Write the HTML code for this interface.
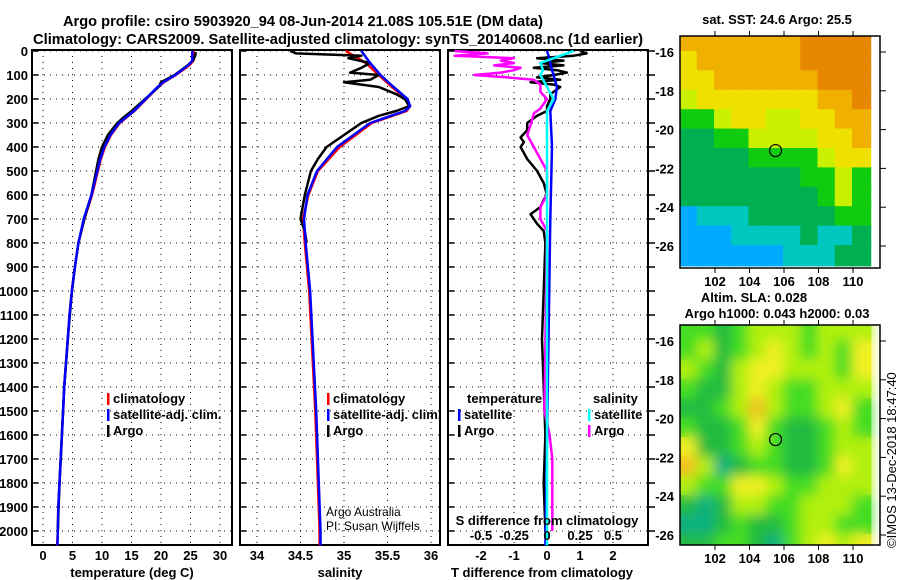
<!DOCTYPE html>
<html><head><meta charset="utf-8"><style>
html,body{margin:0;padding:0;background:#fff;}
svg{display:block;font-family:"Liberation Sans",sans-serif;}
.b{font-weight:bold;}
</style></head><body>
<svg id="s" width="900" height="580" xmlns="http://www.w3.org/2000/svg">
<defs>
<filter id="blur" x="-0.1" y="-0.1" width="1.2" height="1.2"><feGaussianBlur stdDeviation="6"/></filter>
<clipPath id="clipB"><rect x="680" y="325" width="200" height="220"/></clipPath>
<clipPath id="clipA"><rect x="680" y="36" width="200" height="232"/></clipPath>
</defs>
<text x="303" y="26" text-anchor="middle" font-size="15" class="b" textLength="480" lengthAdjust="spacingAndGlyphs">Argo profile: csiro 5903920_94 08-Jun-2014 21.08S 105.51E (DM data)</text>
<text x="338" y="44" text-anchor="middle" font-size="15" class="b" textLength="610" lengthAdjust="spacingAndGlyphs">Climatology: CARS2009. Satellite-adjusted climatology: synTS_20140608.nc (1d earlier)</text>
</svg>
<script>
// ---- data ----
const depthTicks=[0,100,200,300,400,500,600,700,800,900,1000,1100,1200,1300,1400,1500,1600,1700,1800,1900,2000];
const tempTicks=[0,5,10,15,20,25,30];
const salTicks=[34,34.5,35,35.5,36];
const salTickLabels=["34","34.5","35","35.5","36"];
const tdTicks=[-2,-1,0,1,2];
const sdTickLabels=["-0.5","-0.25","0","0.25","0.5"];
const sdTicks=[-0.5,-0.25,0,0.25,0.5];

const climDepth=[0,40,60,100,130,150,200,250,280,300,350,400,450,500,600,700,800,900,1000,1100,1200,1300,1400,1500,1600,1700,1800,1900,2000,2060];
const climTemp=[25.5,25.5,24.8,22.5,20.5,19.5,17.5,15.5,14,13,11.5,10.5,9.8,9.3,8.3,7.0,6.0,5.4,4.9,4.5,4.2,3.9,3.6,3.4,3.2,3.0,2.8,2.6,2.5,2.4];
const satTemp=[25.3,25.3,24.6,22.4,20.4,19.4,17.4,15.4,13.9,12.9,11.4,10.4,9.7,9.2,8.2,6.9,6.0,5.4,4.9,4.5,4.2,3.9,3.6,3.4,3.2,3.0,2.8,2.6,2.5,2.45];
const argoDepth=[5,20,40,60,100,130,150,200,250,280,300,350,400,450,500,600,700,800,900,1000,1200,1400,1600,1800,2000];
const argoTemp=[25.9,25.8,25.4,24.5,22.3,20.0,19.6,17.3,15.0,13.5,12.6,11.0,10.0,9.4,9.0,8.2,7.0,6.0,5.4,4.9,4.2,3.6,3.2,2.8,2.5];

const salDepth=[0,50,100,150,200,230,250,300,400,500,600,700,800,1000,1500,2000,2060];
const climSal=[35.02,35.25,35.4,35.55,35.72,35.76,35.72,35.32,34.95,34.70,34.59,34.53,34.55,34.6,34.67,34.72,34.72];
const satSal=[35.2,35.3,35.42,35.57,35.73,35.76,35.7,35.3,34.92,34.69,34.58,34.54,34.56,34.61,34.68,34.73,34.73];
const argoSalDepth=[0,10,20,30,50,70,90,100,120,130,150,180,200,230,250,270,300,350,400,450,500,600,700,750,800];
const argoSal=[34.38,34.45,35.2,35.05,35.3,35.2,35.07,35.4,35.3,35.0,35.4,35.6,35.7,35.75,35.6,35.4,35.2,35.0,34.8,34.7,34.62,34.55,34.5,34.55,34.57];

const dDepth=[0,10,20,30,40,50,60,70,80,90,100,110,120,130,140,150,180,200,230,250,270,300,330,360,380,400,450,500,550,600,620,650,680,700,720,750,800,1000,1200,1400,1600,1800,2000];
const argoTd=[1.0,1.2,0.8,-0.3,0.5,-0.2,0.5,-0.4,0.3,0.6,0.2,-0.3,0.4,-0.5,0.2,0.4,0.1,0.1,0.0,0.0,-0.3,-0.6,-0.6,-0.8,-0.7,-0.8,-0.6,-0.3,-0.1,0.0,-0.1,-0.2,-0.5,-0.4,-0.3,-0.1,-0.05,-0.1,-0.15,-0.1,-0.05,-0.1,-0.05];
const sdDepth=[0,10,20,30,40,50,60,70,80,90,100,110,120,140,170,200,240,260,300,350,400,450,500,600,650,700,750,1500,1600,1700,2000];
const argoSd=[-0.7,-0.45,-0.7,-0.25,-0.35,-0.25,-0.4,-0.2,-0.25,-0.35,-0.55,-0.3,-0.1,-0.05,-0.05,0.0,-0.05,-0.1,-0.12,-0.15,-0.1,-0.05,0.0,0.0,-0.05,-0.05,0.0,-0.02,0.02,0.04,0.04];
const satDDepth=[0,20,50,80,100,150,200,250,400,700,2060];
const satSd=[0.2,0.1,-0.05,-0.03,-0.05,0.0,0.05,0.0,0.0,0.0,0.0];
const satTd=[0.0,0.05,0.1,0.15,0.2,0.3,0.25,0.1,0.15,0.1,-0.05];

const lonTicks=[102,104,106,108,110];
const latTicks=[-16,-18,-20,-22,-24,-26];
const sstGrid=[
[6,6,6,6,6,6,6,7,7,7,7],
[5,6,6,6,6,6,6,7,7,7,7],
[5,5,6,6,6,6,6,6,7,7,7],
[4,5,5,5,5,5,5,5,6,6,7],
[3,3,4,5,5,4,4,5,5,6,6],
[2,2,3,3,4,4,4,4,5,5,6],
[2,2,2,2,3,3,3,3,4,5,5],
[2,2,2,2,2,2,2,3,3,4,3],
[2,2,2,2,2,2,2,2,3,4,3],
[0,1,1,1,2,2,2,2,2,3,3],
[0,0,0,1,1,1,1,2,1,1,2],
[0,0,0,0,0,0,1,1,1,2,2]];
const slaGrid=[
[2,2,1,2,3,3,3,2,3,3,3],
[2,3,1,2,3,4,3,2,3,2,4],
[3,2,1,3,4,4,3,3,3,2,4],
[2,1,1,3,4,3,2,2,3,3,3],
[1,1,2,3,5,3,2,2,3,4,2],
[2,1,1,2,4,2,1,1,2,3,2],
[4,1,1,2,3,2,1,1,2,3,3],
[5,3,0,1,2,2,1,1,2,4,3],
[3,2,2,4,4,3,2,2,3,3,3],
[1,0,1,3,3,2,2,3,3,3,2],
[0,0,1,2,1,1,2,3,3,2,2],
[1,1,2,2,1,0,2,3,4,3,4]];
const sstColors=["#00aaff","#00c8c0","#00b050","#10cc10","#c8f000","#f0e000","#f0b000","#e88800"];
const slaColors=["#10b080","#20bb40","#44dd22","#b0f010","#f0f020","#f0c020"];
const floatLon=105.51, floatLat=-21.08;

// ---- helpers ----
const S=document.getElementById('s');
const NS="http://www.w3.org/2000/svg";
function mk(tag,at,parent){const e=document.createElementNS(NS,tag);for(const k in at)e.setAttribute(k,at[k]);(parent||S).appendChild(e);return e;}
const Y0=51, PPM=0.24, BOT=545, TOP=50;
const yD=d=>Y0+d*PPM;

function panel(name){
  const g=mk('g',{});
  
  
  return g;
}
function gridAndBox(g,x0,x1,xvals,xs){
  xvals.forEach(v=>{const l=mk('line',{x1:xs(v),x2:xs(v),y1:TOP,y2:BOT,stroke:'#000','stroke-width':1,'stroke-dasharray':'1,5'},g);
    
    });
  depthTicks.forEach(d=>{const l=mk('line',{x1:x0,x2:x1,y1:yD(d),y2:yD(d),stroke:'#000','stroke-width':1,'stroke-dasharray':'1,5'},g);
    
    
    mk('line',{x1:x0,x2:x0+6,y1:yD(d),y2:yD(d),stroke:'#000','stroke-width':1.5},g);});
  const r=mk('rect',{x:x0,y:TOP,width:x1-x0,height:BOT-TOP,fill:'none',stroke:'#000','stroke-width':2},g);
  
  
}
function line(g,xsArr,dArr,xs,color,w,name){
  const pts=xsArr.map((v,i)=>xs(v).toFixed(1)+','+yD(dArr[i]).toFixed(1)).join(' ');
  const p=mk('polyline',{points:pts,fill:'none',stroke:color,'stroke-width':w,'stroke-linejoin':'round'},g);
  
  
}
function txt(g,x,y,s,size,anchor,name,bold){
  const t=mk('text',{x:x,y:y,'font-size':size,'text-anchor':anchor||'start','font-weight':bold===false?'normal':'bold'},g);
  t.textContent=s;
  
  
  return t;
}
function legend(g,x,y,items,name){
  items.forEach((it,i)=>{
    mk('rect',{x:x,y:y+i*16-10,width:2.5,height:12,fill:it[1]},g);
    txt(g,x+6,y+i*16,it[0],13,'start',name+'-entry');
  });
}

// ---- panel 1: temperature ----
const xT=t=>43+t*5.9;
const g1=panel('temperature-panel');
gridAndBox(g1,32,232,tempTicks,xT);
line(g1,climTemp,climDepth,xT,'#ff0000',2.5,'climatology-temperature-line');
line(g1,argoTemp,argoDepth,xT,'#000',2.5,'argo-temperature-line');
line(g1,satTemp,climDepth,xT,'#0000ff',2.5,'satellite-temperature-line');
depthTicks.forEach(d=>txt(g1,28,yD(d)+5,String(d),13,'end','depth-tick-label'));
tempTicks.forEach(t=>txt(g1,xT(t),560,String(t),13,'middle','temperature-tick-label'));
txt(g1,132,577,'temperature (deg C)',13,'middle','x-axis-title-temperature');
legend(g1,107,403,[['climatology','#f00'],['satellite-adj. clim.','#00f'],['Argo','#000']],'temperature-legend');

// ---- panel 2: salinity ----
const xS=s=>257+(s-34)*87;
const g2=panel('salinity-panel');
gridAndBox(g2,240,440,salTicks,xS);
line(g2,climSal,salDepth,xS,'#ff0000',2.5,'climatology-salinity-line');
line(g2,argoSal,argoSalDepth,xS,'#000',2.5,'argo-salinity-line');
line(g2,satSal,salDepth,xS,'#0000ff',2.5,'satellite-salinity-line');
salTicks.forEach((s,i)=>txt(g2,xS(s),560,salTickLabels[i],13,'middle','salinity-tick-label'));
txt(g2,340,577,'salinity',13,'middle','x-axis-title-salinity');
legend(g2,327,403,[['climatology','#f00'],['satellite-adj. clim.','#00f'],['Argo','#000']],'salinity-legend');
txt(g2,326,516,'Argo Australia',12,'start','credit-argo-australia',false);
txt(g2,326,530,'PI: Susan Wijffels',12,'start','credit-pi',false);

// ---- panel 3: differences ----
const xTd=t=>547+t*33;
const xSd=s=>547+s*132;
const g3=panel('difference-panel');
gridAndBox(g3,448,648,tdTicks,xTd);
depthTicks.forEach(d=>mk('line',{x1:648,x2:655,y1:yD(d),y2:yD(d),stroke:'#000','stroke-width':1.5},g3));
line(g3,argoTd,dDepth,xTd,'#000',2.5,'argo-temperature-diff-line');
line(g3,argoSd,sdDepth,xSd,'#ff00ff',2.5,'argo-salinity-diff-line');
line(g3,satTd,satDDepth,xTd,'#0000ff',2.5,'satellite-temperature-diff-line');
line(g3,satSd,satDDepth,xSd,'#00ffff',2.5,'satellite-salinity-diff-line');
tdTicks.forEach(t=>txt(g3,xTd(t),560,String(t),13,'middle','t-diff-tick-label'));
sdTicks.forEach((s,i)=>txt(g3,xSd(s),540,sdTickLabels[i],13,'middle','s-diff-tick-label'));
txt(g3,547,525,'S difference from climatology',13,'middle','s-diff-axis-title');
txt(g3,542,577,'T difference from climatology',13,'middle','t-diff-axis-title');
txt(g3,467,403,'temperature',13,'start','temperature-diff-legend-header');
legend(g3,458,419,[['satellite','#00f'],['Argo','#000']],'temperature-diff-legend');
txt(g3,593,403,'salinity',13,'start','salinity-diff-legend-header');
legend(g3,588,419,[['satellite','#0ff'],['Argo','#f0f']],'salinity-diff-legend');

// ---- maps ----
function map(y0,y1,lat16y,grid,colors,clip,blur,name,titles){
  const g=mk('g',{});
  
  
  const pxLon=17.25, pxLat=19.4;
  const lx=l=>715+(l-102)*pxLon;
  const ly=l=>lat16y+(-16-l)*pxLat;
  const cg=mk('g',{'clip-path':'url(#'+clip+')'},g);
  const layers=blur?[mk('g',{},cg),mk('g',{filter:'url(#blur)'},cg)]:[mk('g',{},cg)];
  layers.forEach(inner=>grid.forEach((row,r)=>row.forEach((v,c)=>{
    const lon0=100+c, lat0=-15-r;
    const cell=mk('rect',{x:lx(lon0)-1,y:ly(lat0)-1,width:pxLon+2,height:pxLat+2,fill:colors[v]},inner);
    
    
  })));
  const m=mk('circle',{cx:lx(floatLon),cy:ly(floatLat),r:6,fill:'none',stroke:'#000','stroke-width':1.2},g);
  
  
  mk('rect',{x:680,y:y0,width:200,height:y1-y0,fill:'none',stroke:'#000','stroke-width':1.5},g);
  lonTicks.forEach(l=>{mk('line',{x1:lx(l),x2:lx(l),y1:y0-5,y2:y0,stroke:'#000'},g);mk('line',{x1:lx(l),x2:lx(l),y1:y1,y2:y1+5,stroke:'#000'},g);
    txt(g,lx(l),y1+18,String(l),13,'middle','longitude-tick-label');});
  latTicks.forEach(l=>{mk('line',{x1:880,x2:886,y1:ly(l),y2:ly(l),stroke:'#000'},g);
    txt(g,674,ly(l)+5,String(l),13,'end','latitude-tick-label');});
  titles.forEach(t=>txt(g,t[1],t[2],t[0],13,'middle','map-title'));
}
map(36,268,52,sstGrid,sstColors,'clipA',false,'sst-map',[['sat. SST: 24.6 Argo: 25.5',777,24]]);
map(325,545,341,slaGrid,slaColors,'clipB',true,'sla-map',[['Altim. SLA: 0.028',754,302],['Argo h1000: 0.043 h2000: 0.03',777,318]]);
const cr=txt(S,0,0,'©IMOS 13-Dec-2018 18:47:40',13,'start','copyright-timestamp',false);
cr.setAttribute('transform','translate(896,548) rotate(-90)');
</script>
</body></html>
